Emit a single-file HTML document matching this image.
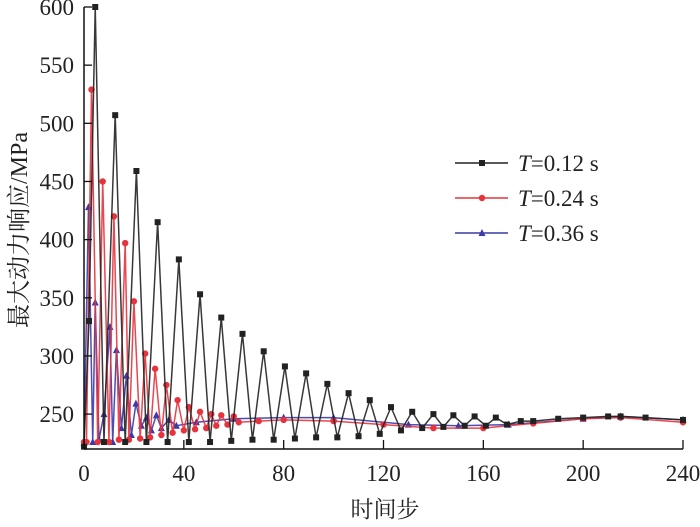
<!DOCTYPE html>
<html><head><meta charset="utf-8"><style>
html,body{margin:0;padding:0;background:#fff;}
svg text{font-family:"Liberation Serif","Noto Serif CJK SC",serif;fill:#222;}
</style></head><body>
<svg id="chart" width="700" height="522" xmlns="http://www.w3.org/2000/svg">
<g id="plot"></g>
<g id="axes"></g>
<text transform="translate(27,230) rotate(-90)" text-anchor="middle" font-size="24">最大动力响应/MPa</text>
<text x="385" y="517" text-anchor="middle" font-size="23">时间步</text>
<g id="legend"></g>
</svg>
<script>
const xTicks=[0,40,80,120,160,200,240];
const yTicks=[250,300,350,400,450,500,550,600];
const seriesNames=["T=0.12 s","T=0.24 s","T=0.36 s"];
const blackX=[0,2,4.5,8,12.5,16.5,21,25,29.5,33.5,38,42,46.5,50.5,55,59,63.5,67.5,72,76,80.5,84.5,89,93,97.5,101.5,106,110,114.5,118.5,123,127,131.5,135.5,140,144,148,152.5,156.5,161,165,169.5,175,180,190,200,210,215,225,240];
const blackY=[222,330,600,226,507,226,459,226,415,226,383,226,353,226,333,227,319,228,304,228,291,229,285,230,276,230,268,231,262,233,256,236,252,238,250,239,249,240,248,240,247,241,244,244,246,247,248,248,247,245];
const redX=[0,1,3,5.5,7.5,10,12,14,16.5,18,20,22.5,24.5,26.5,28.5,31,33,35.5,37.5,40,42,44.5,46.5,49,51,53,55,57.5,60,62,70,80,100,120,140,160,180,200,215,240];
const redY=[226,226,529,226,450,226,420,228,397,228,347,229,302,230,289,232,275,234,262,236,256,237,252,238,250,240,249,241,248,243,244,245,244,241,238,238,242,246,247,243];
const blueX=[0,1.8,3.5,4.5,6,8,10.4,11.5,13,15,17,19,20.8,23,25,27,29,31,34,37,45,60,80,100,130,150,170,200,215,240];
const blueY=[225,428,226,346,228,250,325,226,305,238,283,232,259,240,247,236,249,238,245,240,243,246,247,247,241,240,241,246,248,245];
const NS="http://www.w3.org/2000/svg";
const X0=84,X1=683,Y0=449,Y1=7,XMIN=0,XMAX=240,YMIN=220,YMAX=600;
function sx(v){return X0+(v-XMIN)/(XMAX-XMIN)*(X1-X0);}
function sy(v){return Y0-(v-YMIN)/(YMAX-YMIN)*(Y0-Y1);}
function mk(tag,attrs,parent){const e=document.createElementNS(NS,tag);for(const k in attrs)e.setAttribute(k,attrs[k]);parent.appendChild(e);return e;}
const axes=document.getElementById('axes');
let a=mk('line',{x1:X0,y1:Y0,x2:X1,y2:Y0,stroke:'#111','stroke-width':1.5},axes);


a=mk('line',{x1:X0,y1:Y0,x2:X0,y2:Y1,stroke:'#111','stroke-width':1.5},axes);


xTicks.forEach(t=>{const x=sx(t);
 const l=mk('line',{x1:x,y1:Y0,x2:x,y2:Y0-9,stroke:'#111','stroke-width':1.3},axes);
 
 
 const tx=mk('text',{x:x,y:Y0+32,'text-anchor':'middle','font-size':23},axes);tx.textContent=t;
 
 });
yTicks.forEach(t=>{const y=sy(t);
 const l=mk('line',{x1:X0,y1:y,x2:X0+8,y2:y,stroke:'#111','stroke-width':1.3},axes);
 
 
 const tx=mk('text',{x:X0-10,y:y+8,'text-anchor':'end','font-size':23},axes);tx.textContent=t;
 
 });
const plot=document.getElementById('plot');
const series=[{xs:blueX,ys:blueY,c:'#3a3aa8',m:'tri',n:'series-t036'},{xs:redX,ys:redY,c:'#e8323c',m:'circ',n:'series-t024'},{xs:blackX,ys:blackY,c:'#222',m:'sq',n:'series-t012'}];
function marker(type,x,y,c,parent){let e;
 if(type==='sq')e=mk('rect',{x:x-3,y:y-3,width:6,height:6,fill:c},parent);
 else if(type==='circ')e=mk('circle',{cx:x,cy:y,r:3.2,fill:c},parent);
 else e=mk('polygon',{points:`${x},${y-4} ${x-3.5},${y+3} ${x+3.5},${y+3}`,fill:c},parent);
 return e;}
series.forEach(s=>{const g=mk('g',{},plot);
 
 
 const pts=s.xs.map((x,i)=>sx(x)+','+sy(s.ys[i])).join(' ');
 const pl=mk('polyline',{points:pts,fill:'none',stroke:s.c,'stroke-width':1.5,opacity:0.9},g);
 
 
 s.xs.forEach((x,i)=>{const e=marker(s.m,sx(x),sy(s.ys[i]),s.c,g);
  
  });});
const leg=document.getElementById('legend');
const legStyles=[{c:'#222',m:'sq'},{c:'#e8323c',m:'circ'},{c:'#3a3aa8',m:'tri'}];
seriesNames.forEach((name,i)=>{const y=163+i*35;const g=mk('g',{},leg);
 
 
 mk('line',{x1:455,y1:y,x2:508,y2:y,stroke:legStyles[i].c,'stroke-width':1.5},g);
 marker(legStyles[i].m,482,y,legStyles[i].c,g);
 const t=mk('text',{x:518,y:y+8,'font-size':23},g);
 const parts=name.split('=');
 const it=mk('tspan',{'font-style':'italic'},t);it.textContent=parts[0];
 const rest=mk('tspan',{},t);rest.textContent='='+parts[1];});
</script>
</body></html>
